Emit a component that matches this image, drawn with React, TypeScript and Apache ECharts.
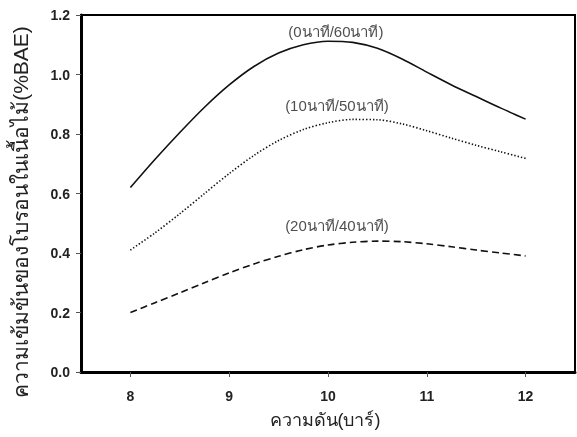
import React, { useEffect, useRef } from "react";
import * as echarts from "echarts";

const pressure = [8, 8.25, 8.5, 8.75, 9, 9.25, 9.5, 9.75, 10, 10.25, 10.5, 10.75, 11, 11.25, 11.5, 11.75, 12];
const series0_60 = [0.62, 0.715, 0.805, 0.89, 0.965, 1.027, 1.072, 1.1, 1.112, 1.108, 1.088, 1.052, 1.008, 0.965, 0.926, 0.887, 0.85];
const series10_50 = [0.41, 0.468, 0.532, 0.6, 0.667, 0.728, 0.778, 0.815, 0.838, 0.849, 0.848, 0.834, 0.811, 0.786, 0.762, 0.74, 0.718];
const series20_40 = [0.2, 0.233, 0.266, 0.3, 0.333, 0.363, 0.389, 0.411, 0.427, 0.436, 0.44, 0.438, 0.431, 0.421, 0.41, 0.4, 0.39];
const seriesNames = ["(0นาที/60นาที)", "(10นาที/50นาที)", "(20นาที/40นาที)"];
const labelX = [10.08, 10.09, 10.09];
const labelY = [1.146, 0.897, 0.494];
const xTicks = [8, 9, 10, 11, 12];
const xTitle = "ความดัน(บาร์)";
const yTitle = "ความเข้มข้นของโบรอนในเนื้อไม้(%BAE)";

const FONT = "Tahoma, 'Liberation Sans', 'Noto Sans', sans-serif";
const NUMFONT = "'Liberation Sans', Arial, sans-serif";

export default function App() {
  const ref = useRef<HTMLDivElement>(null);
  useEffect(() => {
    if (!ref.current) return;
    const chart = echarts.init(ref.current, undefined, { renderer: "svg" });
    const toPairs = (ys: number[]) => pressure.map((x, i) => [x, ys[i]]);
    const lineColor = "#111";
    chart.setOption({
      animation: false,
      grid: {
        left: 81,
        right: 2,
        top: 15,
        bottom: 65,
        show: true,
        borderColor: "#000",
        borderWidth: 2,
      },
      xAxis: {
        type: "value",
        min: 7.5,
        max: 12.5,
        splitLine: { show: false },
        axisLine: { show: true, lineStyle: { color: "#000", width: 3 } },
        axisTick: {
          show: true,
          length: 5,
          customValues: xTicks,
          lineStyle: { color: "#555", width: 1 },
        },
        axisLabel: {
          customValues: xTicks,
          margin: 17,
          fontFamily: NUMFONT,
          fontWeight: "bold",
          fontSize: 14,
          color: "#222",
        },
      },
      yAxis: {
        type: "value",
        min: 0,
        max: 1.2,
        interval: 0.2,
        splitLine: { show: false },
        axisLine: { show: true, lineStyle: { color: "#000", width: 3 } },
        axisTick: { show: true, length: 5, lineStyle: { color: "#555", width: 1 } },
        axisLabel: {
          margin: 11,
          formatter: (v: number) => v.toFixed(1),
          fontFamily: NUMFONT,
          fontWeight: "bold",
          fontSize: 14,
          color: "#222",
        },
      },
      graphic: [
        {
          type: "text",
          x: 20,
          y: 212,
          rotation: Math.PI / 2,
          style: {
            text: yTitle,
            fill: "#222",
            font: `21px ${FONT}`,
            textAlign: "center",
            textVerticalAlign: "middle",
          },
        },
        {
          type: "text",
          x: 325,
          y: 420,
          style: {
            text: xTitle,
            fill: "#222",
            font: `18px ${FONT}`,
            textAlign: "center",
            textVerticalAlign: "middle",
          },
        },
      ],
      series: [
        {
          name: seriesNames[0],
          type: "line",
          smooth: 0.3,
          showSymbol: false,
          data: toPairs(series0_60),
          lineStyle: { color: lineColor, width: 1.6, type: "solid" },
        },
        {
          name: seriesNames[1],
          type: "line",
          smooth: 0.3,
          showSymbol: false,
          data: toPairs(series10_50),
          lineStyle: { color: lineColor, width: 1.6, type: [1.4, 2] },
        },
        {
          name: seriesNames[2],
          type: "line",
          smooth: 0.3,
          showSymbol: false,
          data: toPairs(series20_40),
          lineStyle: { color: lineColor, width: 1.6, type: [7, 4] },
        },
        {
          name: "labels",
          type: "scatter",
          symbolSize: 1,
          itemStyle: { color: "transparent" },
          data: seriesNames.map((n, i) => [labelX[i], labelY[i], n]),
          label: {
            show: true,
            position: "inside",
            formatter: (p: any) => p.value[2],
            fontFamily: FONT,
            fontSize: 15,
            color: "#222",
          },
        },
      ],
    });
    return () => chart.dispose();
  }, []);
  return (
    <div
      ref={ref}
      style={{ position: "fixed", left: 0, top: 0, width: 577, height: 437 }}
    />
  );
}
